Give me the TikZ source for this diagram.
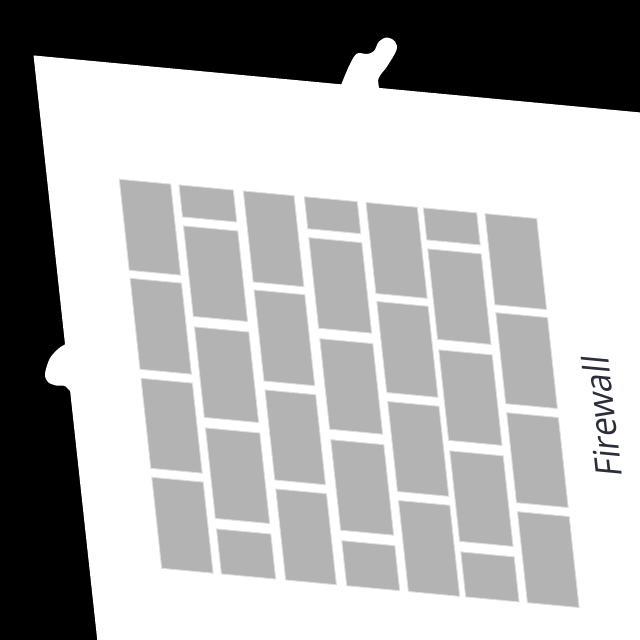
\documentclass[tikz,border=0pt]{standalone}
\usepackage{fontspec}
\newfontfamily\fwfont{Open Sans}
\definecolor{brickgray}{RGB}{179,179,179}
\definecolor{brickedge}{RGB}{222,222,222}
\definecolor{fwtext}{RGB}{42,46,58}
\begin{document}
\begin{tikzpicture}[x=1pt,y=-1pt,
  brick/.style={fill=brickgray, draw=brickedge, line width=0.9pt},
  pagefill/.style={fill=white},
  fwlabel/.style={font=\fwfont\fontsize{36.5}{42}\selectfont, text=fwtext, inner sep=0pt}]
\fill[black] (0,0) rectangle (640,640);
\useasboundingbox (0,0) rectangle (640,640);
\begin{scope}
  \clip (0,0) rectangle (640,640);
  % small tabs sticking out of the sheet
  \fill[pagefill] plot[smooth cycle, tension=0.55] coordinates
    {(338,96) (341.5,84) (350,64) (357,53.5) (367,54) (374,51) (379,41.5) (387,37.5) (395,41.5) (396.5,50) (387,66.5) (378.5,78.5) (376,96)};
  \fill[pagefill] plot[smooth cycle, tension=0.55] coordinates
    {(75,343) (64,345) (57,350) (49.5,359) (45,374) (48,382) (56,385.5) (65,386) (70,391) (78,394)};
  \begin{scope}[shift={(119.3,179.3)}, cm={1,-0.094,-0.109,1,(0,0)}]
    % sheet
    \fill[pagefill] (-73,-117) rectangle (800,800);
    % columns starting with a tall brick
    \foreach \ua/\ub in {0/51.4, 124/174.7, 246.7/298, 365.7/417.4}{
      \foreach \va/\vb in {0/91, 99/190, 199/289, 298/389}{
        \path[brick] (\ua,\va) rectangle (\ub,\vb);
      }
    }
    % columns starting with a short brick
    \foreach \ua/\ub in {59.7/114, 185/238, 304/357.4}{
      \foreach \va/\vb in {0/32, 41/131.5, 142/232.5, 243/333.5, 344/389}{
        \path[brick] (\ua,\va) rectangle (\ub,\vb);
      }
    }
    \node[fwlabel, rotate=90, xscale=0.93, transform shape] (fw) at (461.5,193.2) {Firewall};
  \end{scope}
\end{scope}
\end{tikzpicture}
\end{document}
